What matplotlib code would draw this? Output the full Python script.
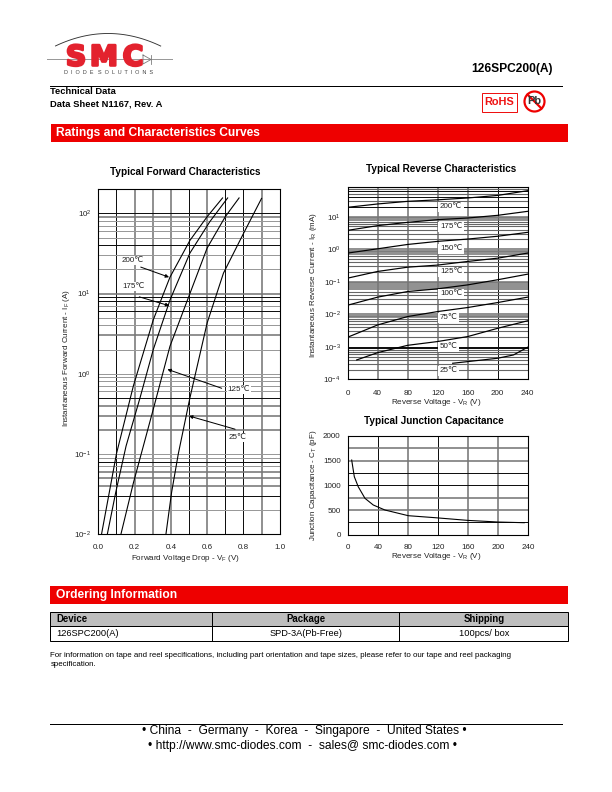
import matplotlib
matplotlib.use('Agg')
import matplotlib.pyplot as plt
import matplotlib.patheffects as pe
from matplotlib.patches import Rectangle, Circle
from matplotlib.ticker import FixedLocator, FuncFormatter, NullFormatter
import numpy as np

plt.rcParams['font.family'] = ['Liberation Sans', 'DejaVu Sans', 'Noto Sans CJK SC']
plt.rcParams['mathtext.fontset'] = 'custom'
plt.rcParams['mathtext.rm'] = 'Liberation Sans'
plt.rcParams['mathtext.default'] = 'regular'

# Forward characteristics: voltage (V) and current (A)
vf_200 = [0.018, 0.10, 0.193, 0.303, 0.395, 0.505, 0.60, 0.685]
if_200 = [0.01, 0.10, 0.7, 4.7, 16, 46, 91, 156]
vf_175 = [0.05, 0.096, 0.153, 0.23, 0.303, 0.395, 0.505, 0.615, 0.713]
if_175 = [0.01, 0.033, 0.125, 0.5, 2, 8.3, 32, 79, 156]
vf_125 = [0.125, 0.193, 0.303, 0.395, 0.505, 0.60, 0.70, 0.776]
if_125 = [0.01, 0.043, 0.36, 2.2, 10, 37, 91, 156]
vf_25 = [0.373, 0.404, 0.441, 0.505, 0.60, 0.69, 0.80, 0.90]
if_25 = [0.01, 0.033, 0.10, 0.5, 4.3, 18, 56, 154]

# Reverse characteristics: voltage (V) and current (mA)
vr = [0, 40, 80, 120, 160, 200, 240]
ir_200 = [19.4, 24.6, 29.6, 33, 37.6, 45, 63]
ir_175 = [3.8, 5.3, 6.7, 8.1, 9.1, 11, 14.6]
ir_150 = [0.76, 1.03, 1.4, 1.74, 2.05, 2.5, 3.3]
ir_125 = [0.129, 0.207, 0.28, 0.325, 0.42, 0.53, 0.76]
ir_100 = [0.019, 0.0336, 0.05, 0.0605, 0.08, 0.115, 0.171]
ir_75 = [0.00197, 0.0047, 0.0085, 0.0121, 0.0161, 0.0229, 0.0336]
vr_50 = [12, 40, 80, 120, 160, 200, 240]
ir_50 = [0.000394, 0.00066, 0.00111, 0.00145, 0.00206, 0.0037, 0.0063]
vr_25 = [140, 160, 200, 221, 240]
ir_25 = [0.000311, 0.00035, 0.000444, 0.00056, 0.00097]
reverse_labels = ['200℃', '175℃', '150℃', '125℃', '100℃', '75℃', '50℃', '25℃']
reverse_label_y = [20, 4.9, 1.03, 0.2, 0.043, 0.0078, 0.001, 0.00018]

# Junction capacitance
vc = [5.3, 8.8, 14, 23, 34, 49.6, 80.7, 116, 160, 200, 235]
cj = [1513, 1175, 973, 737, 602, 500, 385, 345, 290, 257, 243]

# Page text
table_header = ['Device', 'Package', 'Shipping']
table_row = ['126SPC200(A)', 'SPD-3A(Pb-Free)', '100pcs/ box']

RED = '#ee0000'
fig = plt.figure(figsize=(8.5, 11), dpi=72, facecolor='white')

# Page layer in pixel coordinates
page = fig.add_axes([0, 0, 1, 1], zorder=0)
page.set_xlim(0, 612)
page.set_ylim(792, 0)
page.axis('off')


def add_plot(left, right, top, bottom):
    return fig.add_axes([left / 612, 1 - bottom / 792, (right - left) / 612, (bottom - top) / 792], zorder=2)


def grid_lines(ax, values, vertical, dark, black, base=('#999999', 1.0)):
    for v in values:
        c, lw = base
        if np.isclose(dark, v, rtol=1e-6, atol=0).any():
            c, lw = '#777777', 1.6
        if np.isclose(black, v, rtol=1e-6, atol=0).any():
            c, lw = '#111111', 1.0
        if vertical:
            ax.axvline(v, color=c, lw=lw, zorder=1)
        else:
            ax.axhline(v, color=c, lw=lw, zorder=1)


def log_label(y, pos):
    return '$10^{%d}$' % round(np.log10(y))


def place_labels(ax, title, tx, ty, xlabel, xl, yl, ylabel, yx, yy, xpad):
    box = ax.get_position()
    left, right = box.x0 * 612, box.x1 * 612
    top, bottom = (1 - box.y1) * 792, (1 - box.y0) * 792
    ax.set_title(title, fontsize=10, fontweight='bold', x=(tx - left) / (right - left),
                 y=(bottom - ty) / (bottom - top), pad=0, va='center')
    ax.set_xlabel(xlabel, fontsize=8, color='#222222', va='center')
    ax.xaxis.set_label_coords(xl, yl, transform=page.transData)
    ax.set_ylabel(ylabel, fontsize=8, color='#222222', va='center')
    ax.yaxis.set_label_coords(yx, yy, transform=page.transData)
    ax.tick_params(which='both', length=0, labelsize=8, labelcolor='#222222')
    ax.tick_params(axis='x', pad=xpad)
    ax.tick_params(axis='y', pad=7)
    for s in ax.spines.values():
        s.set_linewidth(1.1)
        s.set_zorder(5)


# Typical Forward Characteristics
ax1 = add_plot(98.3, 279.7, 189.3, 534)
ax1.set_xlim(0, 1)
ax1.set_yscale('log')
ax1.set_ylim(0.01, 200)
grid_lines(ax1, np.arange(1, 10) / 10, True, [0.2, 0.3, 0.4, 0.6, 0.9], [0.1, 0.5, 0.7, 0.8])
minor_vals = [m * 10.0 ** e for e in range(-2, 3) for m in range(1, 10) if m * 10.0 ** e <= 200]
grid_lines(ax1, minor_vals, False,
           [90, 10, 3, 0.4, 0.3, 0.2, 0.06, 0.05, 0.04],
           [100, 40, 9, 8, 6, 0.5, 0.08, 0.03])
for xs, ys in [(vf_200, if_200), (vf_175, if_175), (vf_125, if_125), (vf_25, if_25)]:
    ax1.plot(xs, ys, color='black', lw=1.1, zorder=3)
ax1.set_xticks(np.arange(0, 1.01, 0.2))
ax1.set_xticklabels(['0.0', '0.2', '0.4', '0.6', '0.8', '1.0'])
ax1.yaxis.set_major_locator(FixedLocator([0.01, 0.1, 1, 10, 100]))
ax1.yaxis.set_major_formatter(FuncFormatter(log_label))
ax1.yaxis.set_minor_formatter(NullFormatter())
place_labels(ax1, 'Typical Forward Characteristics', 185, 171.7, 'Forward Voltage Drop - V$_F$ (V)', 185, 558,
             'Instantaneous Forward Current - I$_F$ (A)', 66.5, 358, 10)

arrow = dict(arrowstyle='-|>', color='black', lw=1, mutation_scale=7, shrinkA=0, shrinkB=0)
ax1.annotate('', xy=(0.39, 16), xytext=(0.234, 21.4), arrowprops=arrow, zorder=4)
ax1.annotate('', xy=(0.391, 7.05), xytext=(0.226, 9.1), arrowprops=arrow, zorder=4)
ax1.annotate('', xy=(0.381, 1.135), xytext=(0.68, 0.658), arrowprops=arrow, zorder=4)
ax1.annotate('', xy=(0.50, 0.297), xytext=(0.754, 0.203), arrowprops=arrow, zorder=4)
label_box = dict(facecolor='white', edgecolor='none', pad=1)
for x, y, txt in [(0.128, 25.7, '200℃'), (0.134, 12.2, '175℃'), (0.713, 0.64, '125℃'), (0.72, 0.158, '25℃')]:
    ax1.text(x, y, txt, fontsize=8, va='center', color='#222222', bbox=label_box, zorder=4)

# Typical Reverse Characteristics
ax2 = add_plot(347.7, 527.7, 187.3, 379.3)
ax2.set_xlim(0, 240)
ax2.set_yscale('log')
ax2.set_ylim(1e-4, 80)
grid_lines(ax2, [40, 80, 120, 160, 200], True, [40, 80, 120, 160], [200], base=('#777777', 1.6))
rev_vals = [m * 10.0 ** e for e in range(-4, 2) for m in range(1, 10) if m * 10.0 ** e <= 80]
grid_lines(ax2, rev_vals, False,
           [10, 9, 8, 1, 0.9, 0.8, 0.7, 0.1, 0.09, 0.08, 0.07, 0.06, 0.01, 0.009, 0.008],
           [1e-3, 9e-4, 20, 40, 60], base=('#666666', 1.1))
rev_series = [(vr, ir_200), (vr, ir_175), (vr, ir_150), (vr, ir_125), (vr, ir_100), (vr, ir_75), (vr_50, ir_50),
              (vr_25, ir_25)]
for xs, ys in rev_series:
    ax2.plot(xs, ys, color='black', lw=1.2, zorder=3)
for txt, y in zip(reverse_labels, reverse_label_y):
    ax2.text(123, y, txt, fontsize=8, va='center', color='#222222',
             bbox=dict(facecolor='white', edgecolor='none', pad=1.5), zorder=4)
ax2.set_xticks(vr)
ax2.yaxis.set_major_locator(FixedLocator([1e-4, 1e-3, 1e-2, 1e-1, 1, 10]))
ax2.yaxis.set_major_formatter(FuncFormatter(log_label))
ax2.yaxis.set_minor_formatter(NullFormatter())
place_labels(ax2, 'Typical Reverse Characteristics', 441, 169, 'Reverse Voltage - V$_R$ (V)', 436, 402.7,
             'Instantaneous Reverse Current - I$_R$ (mA)', 313.5, 285, 11)

# Typical Junction Capacitance
ax3 = add_plot(347.7, 528, 436, 534.7)
ax3.set_xlim(0, 240)
ax3.set_ylim(0, 2000)
grid_lines(ax3, [40, 80, 120, 160, 200], True, [80, 160, 200], [40, 120])
grid_lines(ax3, [250, 500, 750, 1000, 1250, 1500, 1750], False, [500, 750, 1500, 1750], [250, 1000, 1250])
ax3.plot(vc, cj, color='black', lw=1.1, zorder=3)
ax3.set_xticks(vr)
ax3.set_yticks([0, 500, 1000, 1500, 2000])
place_labels(ax3, 'Typical Junction Capacitance', 434, 421, 'Reverse Voltage - V$_R$ (V)', 436, 557,
             'Junction Capacitance - C$_T$ (pF)', 313.5, 485, 9)

# Header logo
page.plot([47, 172], [59, 59], color='#999999', lw=1)
arc_x = np.linspace(55.5, 160.7, 60)
page.plot(arc_x, 33.5 + 12.5 * ((arc_x - 108) / 52.6) ** 2, color='#333333', lw=0.9)
stroke = [pe.withStroke(linewidth=2.6, foreground='#e3222e')]
for x, letter in [(76, 'S'), (104, 'M'), (133, 'C')]:
    page.text(x, 57.5, letter, fontsize=28, family='DejaVu Sans', fontweight='bold', color='#e3222e',
              ha='center', va='center', path_effects=stroke)
page.plot([143, 143, 151, 143], [55, 64, 59.5, 55], color='#777777', lw=0.8)
page.plot([151, 151], [55, 64], color='#777777', lw=0.8)
page.text(109, 73, 'D  I  O  D  E   S  O  L  U  T  I  O  N  S', fontsize=5.5, color='#444444',
          ha='center', va='center')

# Header text
page.text(553, 69, '126SPC200(A)', fontsize=12, fontweight='bold', ha='right', va='center')
page.plot([50, 562], [85.5, 85.5], color='black', lw=1)
page.text(50.5, 91.5, 'Technical Data', fontsize=9.4, fontweight='bold', va='center')
page.text(50.5, 104, 'Data Sheet N1167, Rev. A', fontsize=9.4, fontweight='bold', va='center')
page.add_patch(Rectangle((481.5, 92.5), 35, 19, facecolor='white', edgecolor='#ee1111', lw=1))
page.text(499, 102, 'RoHS', fontsize=11, fontweight='bold', color='#ee1111', ha='center', va='center')
page.text(534.5, 101.5, 'Pb', fontsize=11, fontweight='bold', color='#333333', ha='center', va='center')
page.add_patch(Circle((534.5, 101.5), 10, facecolor='none', edgecolor='#ee0000', lw=2.2))
page.plot([527.5, 541.5], [94.5, 108.5], color='#ee0000', lw=2.2)

# Section bars
page.add_patch(Rectangle((51, 124), 516.5, 18, facecolor=RED, edgecolor='none'))
page.text(56, 133, 'Ratings and Characteristics Curves', fontsize=12, fontweight='bold', color='white', va='center')
page.add_patch(Rectangle((50, 586), 518, 18, facecolor=RED, edgecolor='none'))
page.text(55.5, 595, 'Ordering Information', fontsize=12, fontweight='bold', color='white', va='center')

# Ordering table
page.add_patch(Rectangle((50, 611.5), 518, 14, facecolor='#bebebe', edgecolor='none'))
page.add_patch(Rectangle((50, 611.5), 518, 29.5, facecolor='none', edgecolor='black', lw=1))
page.plot([50, 568], [625.5, 625.5], color='black', lw=1)
page.plot([212, 212], [611.5, 641], color='black', lw=1)
page.plot([399, 399], [611.5, 641], color='black', lw=1)
page.text(56.5, 618.5, table_header[0], fontsize=9.6, fontweight='bold', va='center')
page.text(306, 618.5, table_header[1], fontsize=9.6, fontweight='bold', ha='center', va='center')
page.text(484, 618.5, table_header[2], fontsize=9.6, fontweight='bold', ha='center', va='center')
page.text(56.5, 633.5, table_row[0], fontsize=9.2, va='center')
page.text(306, 633.5, table_row[1], fontsize=9.2, ha='center', va='center')
page.text(484, 633.5, table_row[2], fontsize=9.2, ha='center', va='center')

page.text(50.5, 655.5, 'For information on tape and reel specifications, including part orientation and tape '
          'sizes, please refer to our tape and reel packaging', fontsize=7.9, va='center')
page.text(50.5, 664.5, 'specification.', fontsize=7.9, va='center')

# Footer
page.plot([50, 562], [723.5, 723.5], color='black', lw=1)
page.text(304, 731, '• China  -  Germany  -  Korea  -  Singapore  -  United States •', fontsize=12,
          ha='center', va='center')
page.text(303, 746, '• http://www.smc-diodes.com  -  sales@ smc-diodes.com •', fontsize=12,
          ha='center', va='center')

fig.savefig('out.png', dpi=72)
